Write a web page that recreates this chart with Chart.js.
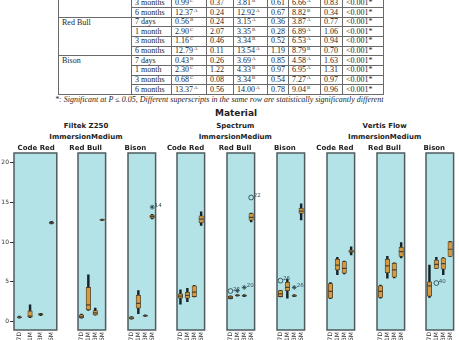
<!DOCTYPE html>
<html lang="en">
<head>
  <meta charset="UTF-8" />
  <title>Material / Immersion Medium boxplots</title>
  <script src="https://cdn.jsdelivr.net/npm/chart.js"></script>
  <style>
    body {
      margin: 0;
      width: 459px;
      height: 340px;
      overflow: hidden;
      position: relative;
      background: #fff;
      color: #222;
    }

    .stats {
      position: absolute;
      left: 58px;
      top: -2.4px;
      border-collapse: collapse;
      table-layout: fixed;
      font-family: 'Liberation Serif', serif;
      font-size: 8px;
      color: #262626;
    }

    .stats td {
      border: 1px solid #6a6a6a;
      padding: 0 0 0 3px;
      height: 8.64px;
      line-height: 8px;
      white-space: nowrap;
      overflow: hidden;
      vertical-align: middle;
    }

    .stats td.group {
      vertical-align: top;
      padding-top: 1px;
    }

    .stats sup {
      font-size: 5px;
      line-height: 0;
      vertical-align: 3px;
      margin-left: 1px;
    }

    .note {
      position: absolute;
      left: 55px;
      top: 94.5px;
      font-family: 'Liberation Serif', serif;
      font-style: italic;
      font-size: 8px;
      white-space: nowrap;
      color: #262626;
    }

    .head {
      position: absolute;
      font-family: 'DejaVu Sans', sans-serif;
      font-weight: bold;
      font-size: 7px;
      line-height: 8px;
      text-align: center;
      white-space: nowrap;
      color: #222;
    }

    .head.big {
      font-size: 9px;
      line-height: 10px;
    }

    canvas {
      position: absolute;
    }
  </style>
</head>
<body>

<table class="stats" id="stats"></table>
<div class="note">*: Significant at P ≤ 0.05, Different superscripts in the same row are statistically significantly different</div>

<script>
// ---- table (only the rows visible in the picture) ----
const tableGroups = [
  { name: '', rows: 2 },        // Code Red, its label is cut off above
  { name: 'Red Bull', rows: 4 },
  { name: 'Bison', rows: 4 }
];
const tableTimes = ['3 months', '6 months',
  '7 days', '1 month', '3 months', '6 months',
  '7 days', '1 month', '3 months', '6 months'];
// mean, superscript, SD for Filtek Z250, Spectrum, Vertis Flow, then P value
const tableRows = [
  ['0.99', 'C', '0.37', '3.81', 'B', '0.61', '6.66', 'A', '0.83', '<0.001*'],
  ['12.37', 'A', '0.24', '12.92', 'A', '0.67', '8.82', 'B', '0.34', '<0.001*'],
  ['0.56', 'B', '0.24', '3.15', 'A', '0.36', '3.87', 'A', '0.77', '<0.001*'],
  ['2.90', 'C', '2.07', '3.35', 'B', '0.28', '6.89', 'A', '1.06', '<0.001*'],
  ['1.16', 'C', '0.46', '3.34', 'B', '0.52', '6.53', 'A', '0.94', '<0.001*'],
  ['12.79', 'A', '0.11', '13.54', 'A', '1.19', '8.79', 'B', '0.70', '<0.001*'],
  ['0.43', 'B', '0.26', '3.69', 'A', '0.85', '4.58', 'A', '1.63', '<0.001*'],
  ['2.30', 'C', '1.22', '4.33', 'B', '0.97', '6.95', 'A', '1.31', '<0.001*'],
  ['0.68', 'C', '0.08', '3.34', 'B', '0.54', '7.27', 'A', '0.97', '<0.001*'],
  ['13.37', 'A', '0.56', '14.00', 'A', '0.78', '9.04', 'B', '0.96', '<0.001*']
];
const colWidths = [73, 40, 35, 27, 34, 21, 32, 22, 41];

// ---- boxplot panels ----
const timeLabels = ['7D', '1M', '3M', '6M'];
const materialNames = ['Filtek Z250', 'Spectrum', 'Vertis Flow'];
const mediumNames = ['Code Red', 'Red Bull', 'Bison'];
const yTicks = [0, 5, 10, 15, 20];

// [min, q1, median, q3, max] for each time point
const filtekCodeRed = [[0.45, 0.5, 0.55, 0.62, 0.7], [0.5, 0.55, 0.7, 1.35, 2.1], [0.75, 0.8, 0.9, 1.0, 1.05], [12.3, 12.35, 12.45, 12.55, 12.6]];
const filtekRedBull = [[0.45, 0.5, 0.6, 0.85, 0.95], [1.4, 1.5, 2.1, 4.3, 5.9], [0.8, 0.85, 1.1, 1.4, 1.7], [12.7, 12.75, 12.8, 12.85, 12.9]];
const filtekBison = [[0.3, 0.35, 0.45, 0.6, 0.65], [1.0, 1.7, 2.3, 3.3, 3.9], [0.65, 0.7, 0.75, 0.8, 0.85], [12.9, 13.0, 13.2, 13.4, 13.5]];
const spectrumCodeRed = [[2.2, 2.95, 3.2, 3.5, 4.0], [2.5, 2.95, 3.3, 3.7, 4.2], [3.1, 3.15, 3.7, 4.5, 4.55], [12.1, 12.45, 12.9, 13.3, 13.8]];
const spectrumRedBull = [[2.85, 2.9, 3.0, 3.2, 3.25], [3.2, 3.25, 3.3, 3.35, 3.4], [3.15, 3.2, 3.27, 3.35, 3.4], [12.55, 12.75, 13.1, 13.6, 13.65]];
const spectrumBison = [[3.1, 3.15, 3.5, 3.9, 3.95], [2.95, 3.9, 4.3, 4.95, 5.35], [3.15, 3.2, 3.25, 3.35, 3.4], [12.8, 13.6, 13.9, 14.25, 14.8]];
const vertisCodeRed = [[2.9, 2.95, 3.8, 4.8, 4.9], [5.9, 6.5, 7.1, 7.85, 8.1], [6.0, 6.1, 6.7, 7.55, 7.6], [8.4, 8.7, 8.85, 9.0, 9.4]];
const vertisRedBull = [[2.95, 3.05, 3.8, 4.5, 4.6], [5.45, 6.15, 7.0, 7.85, 8.2], [5.5, 5.6, 6.5, 7.35, 7.4], [8.0, 8.2, 8.8, 9.35, 9.95]];
const vertisBison = [[3.05, 3.2, 4.5, 5.0, 7.1], [6.7, 6.7, 7.2, 7.75, 8.1], [5.9, 6.6, 7.3, 8.0, 8.05], [8.2, 8.2, 9.1, 10.05, 10.1]];

const panelStats = [filtekCodeRed, filtekRedBull, filtekBison,
  spectrumCodeRed, spectrumRedBull, spectrumBison,
  vertisCodeRed, vertisRedBull, vertisBison];

// panel index, time point, value, case number, marker
const outliers = [
  [2, '6M', 14.4, '14', 'star'],
  [4, '7D', 3.85, '22', 'circle'],
  [4, '1M', 3.9, '', 'star'],
  [4, '3M', 4.3, '20', 'star'],
  [4, '6M', 15.6, '22', 'circle'],
  [5, '7D', 5.15, '26', 'circle'],
  [5, '3M', 4.3, '26', 'star'],
  [8, '1M', 4.85, '40', 'circle']
];

// build the table
const table = document.getElementById('stats');
const cg = document.createElement('colgroup');
colWidths.forEach(w => {
  const c = document.createElement('col');
  c.style.width = w + 'px';
  cg.appendChild(c);
});
table.appendChild(cg);
let r = 0;
tableGroups.forEach(g => {
  for (let k = 0; k < g.rows; k++, r++) {
    const tr = document.createElement('tr');
    if (k === 0) {
      const td = document.createElement('td');
      td.className = 'group';
      td.rowSpan = g.rows;
      td.textContent = g.name;
      tr.appendChild(td);
    }
    const v = tableRows[r];
    const cells = [tableTimes[r],
      v[0] + '<sup>' + v[1] + '</sup>', v[2],
      v[3] + '<sup>' + v[4] + '</sup>', v[5],
      v[6] + '<sup>' + v[7] + '</sup>', v[8], v[9]];
    cells.forEach(html => {
      const td = document.createElement('td');
      td.innerHTML = html.replace('<0', '&lt;0');
      tr.appendChild(td);
    });
    table.appendChild(tr);
  }
});

// headings
function addHead(text, cx, cy, cls) {
  const d = document.createElement('div');
  d.className = 'head' + (cls ? ' ' + cls : '');
  d.textContent = text;
  document.body.appendChild(d);
  d.style.left = (cx - d.offsetWidth / 2) + 'px';
  d.style.top = (cy - d.offsetHeight / 2) + 'px';
}

const panelLeft = i => 14 + i * 49.8;
const panelW = 44;
const panelTop = 153;
const panelBottom = 330;

addHead('Material', 236, 113, 'big');
materialNames.forEach((m, g) => {
  const cx = (panelLeft(g * 3) + panelLeft(g * 3 + 2) + panelW) / 2;
  addHead(m, cx, 126);
  addHead('ImmersionMedium', cx, 137);
});

const panelBg = {
  id: 'panelBg',
  beforeDraw(chart) {
    const { ctx, chartArea: a } = chart;
    ctx.save();
    ctx.fillStyle = '#b3e3e6';
    ctx.fillRect(a.left, a.top, a.right - a.left, a.bottom - a.top);
    ctx.restore();
  },
  afterDraw(chart) {
    const { ctx, chartArea: a } = chart;
    ctx.save();
    ctx.strokeStyle = '#4f5b5e';
    ctx.lineWidth = 1.5;
    ctx.strokeRect(a.left, a.top, a.right - a.left, a.bottom - a.top);
    ctx.restore();
  }
};

const caseLabels = {
  id: 'caseLabels',
  afterDatasetsDraw(chart) {
    const ctx = chart.ctx;
    ctx.save();
    ctx.font = '5.5px "DejaVu Sans"';
    ctx.fillStyle = '#33505a';
    ctx.textBaseline = 'bottom';
    chart.data.datasets.forEach((ds, di) => {
      if (!ds.caseLabels) return;
      chart.getDatasetMeta(di).data.forEach((pt, j) => {
        const t = ds.caseLabels[j];
        if (t) ctx.fillText(t, pt.x + 2.5, pt.y + 1);
      });
    });
    ctx.restore();
  }
};

panelStats.forEach((stats, i) => {
  const first = i === 0;
  const canvas = document.createElement('canvas');
  const yw = first ? 14 : 0;
  canvas.width = 4 + yw + panelW + 4;
  canvas.height = (panelBottom - panelTop) + 20;
  canvas.style.left = (panelLeft(i) - 4 - yw) + 'px';
  canvas.style.top = (panelTop - 10) + 'px';
  document.body.appendChild(canvas);

  addHead(mediumNames[i % 3], panelLeft(i) + panelW / 2, 148);

  const mine = outliers.filter(o => o[0] === i);
  const circles = mine.filter(o => o[4] === 'circle');
  const stars = mine.filter(o => o[4] === 'star');

  new Chart(canvas, {
    type: 'bar',
    data: {
      labels: timeLabels,
      datasets: [
        {
          label: 'whisker',
          data: stats.map(s => [s[0], s[4]]),
          backgroundColor: '#15232a',
          barThickness: 1.8,
          grouped: false,
          order: 4
        },
        {
          label: 'box',
          data: stats.map(s => [s[1], s[3]]),
          backgroundColor: '#d49b44',
          borderColor: '#4d3d22',
          borderWidth: 0.8,
          borderSkipped: false,
          barThickness: 4.5,
          grouped: false,
          order: 3
        },
        {
          type: 'line',
          label: 'median',
          data: stats.map(s => s[2]),
          showLine: false,
          pointStyle: 'line',
          pointRadius: 2.3,
          pointBorderWidth: 1.2,
          pointBorderColor: '#4a4232',
          order: 2
        },
        {
          type: 'line',
          label: 'outlier',
          data: circles.map(o => ({ x: o[1], y: o[2] })),
          caseLabels: circles.map(o => o[3]),
          showLine: false,
          pointStyle: 'circle',
          pointRadius: 2.4,
          pointBorderWidth: 0.9,
          pointBorderColor: '#2c4a55',
          pointBackgroundColor: 'rgba(0,0,0,0)',
          order: 1
        },
        {
          type: 'line',
          label: 'extreme',
          data: stars.map(o => ({ x: o[1], y: o[2] })),
          caseLabels: stars.map(o => o[3]),
          showLine: false,
          pointStyle: 'star',
          pointRadius: 2.4,
          pointBorderWidth: 0.9,
          pointBorderColor: '#2c4a55',
          order: 0
        }
      ]
    },
    options: {
      responsive: false,
      animation: false,
      events: [],
      layout: { padding: { top: 10, left: 4, right: 4, bottom: 0 } },
      plugins: { legend: { display: false }, tooltip: { enabled: false } },
      scales: {
        x: {
          offset: true,
          border: { display: false },
          grid: { display: false, drawTicks: false, tickLength: 0 },
          ticks: {
            minRotation: 90,
            maxRotation: 90,
            autoSkip: false,
            padding: 2,
            color: '#333',
            font: { family: 'DejaVu Sans', size: 6 }
          },
          afterFit: s => { s.height = 10; }
        },
        y: {
          display: first,
          min: -1.05,
          max: 21.2,
          border: { display: false },
          grid: { drawOnChartArea: false, drawTicks: true, tickLength: 4, color: '#333' },
          ticks: {
            padding: 1,
            color: '#333',
            font: { family: 'DejaVu Sans', size: 6 }
          },
          afterBuildTicks: s => { s.ticks = yTicks.map(v => ({ value: v })); },
          afterFit: s => { s.width = 14; }
        }
      }
    },
    plugins: [panelBg, caseLabels]
  });
});
</script>
</body>
</html>
